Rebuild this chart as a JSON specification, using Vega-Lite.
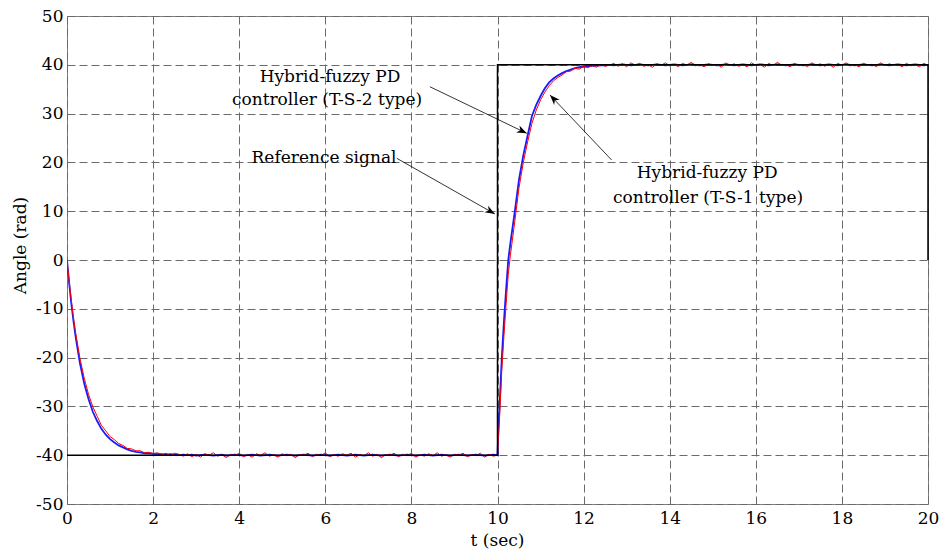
{
  "$schema": "https://vega.github.io/schema/vega-lite/v6.json",
  "width": 861,
  "height": 488,
  "autosize": {"type": "none"},
  "padding": {"left": 67, "top": 16, "right": 13, "bottom": 48},
  "background": "white",
  "datasets": {
    "resp": [
      {"t":0,"b":0,"r":0},{"t":0.05,"b":-4.7,"r":-4.4},{"t":0.1,"b":-8.9,"r":-8.3},{"t":0.15,"b":-12.5,"r":-11.8},{"t":0.2,"b":-15.7,"r":-14.9},
      {"t":0.3,"b":-21.1,"r":-20.1},{"t":0.4,"b":-25.3,"r":-24.2},{"t":0.5,"b":-28.5,"r":-27.5},{"t":0.6,"b":-31.1,"r":-30.1},{"t":0.7,"b":-33.0,"r":-32.0},
      {"t":0.8,"b":-34.6,"r":-33.9},{"t":0.9,"b":-35.8,"r":-35.0},{"t":1.0,"b":-36.7,"r":-36.2},{"t":1.1,"b":-37.4,"r":-36.8},{"t":1.2,"b":-38.0,"r":-37.6},
      {"t":1.3,"b":-38.4,"r":-38.0},{"t":1.4,"b":-38.8,"r":-38.6},{"t":1.5,"b":-39.1,"r":-38.7},{"t":1.6,"b":-39.3,"r":-39.1},{"t":1.7,"b":-39.4,"r":-39.1},
      {"t":1.8,"b":-39.6,"r":-39.5},{"t":1.9,"b":-39.6,"r":-39.4},{"t":2.0,"b":-39.7,"r":-39.7},
      {"t":2.1,"b":-39.8,"r":-39.5},{"t":2.2,"b":-39.8,"r":-39.9},{"t":2.3,"b":-39.9,"r":-39.6},{"t":2.4,"b":-39.8,"r":-40.1},{"t":2.5,"b":-39.9,"r":-39.6},
      {"t":2.6,"b":-40.0,"r":-39.8},{"t":2.7,"b":-39.9,"r":-40.2},{"t":2.8,"b":-40.0,"r":-39.7},{"t":2.9,"b":-39.9,"r":-40.3},{"t":3.0,"b":-40.1,"r":-39.8},
      {"t":3.1,"b":-40.0,"r":-40.4},{"t":3.2,"b":-39.9,"r":-39.7},{"t":3.3,"b":-40.0,"r":-40.0},{"t":3.4,"b":-40.1,"r":-39.5},{"t":3.5,"b":-40.0,"r":-40.2},
      {"t":3.6,"b":-39.9,"r":-39.9},{"t":3.7,"b":-40.1,"r":-40.5},{"t":3.8,"b":-40.0,"r":-39.8},{"t":3.9,"b":-39.9,"r":-40.1},{"t":4.0,"b":-40.0,"r":-39.6},
      {"t":4.1,"b":-40.1,"r":-40.3},{"t":4.2,"b":-40.0,"r":-39.9},{"t":4.3,"b":-39.9,"r":-40.4},{"t":4.4,"b":-40.0,"r":-39.7},{"t":4.5,"b":-40.1,"r":-40.0},
      {"t":4.6,"b":-40.0,"r":-39.5},{"t":4.7,"b":-39.9,"r":-40.2},{"t":4.8,"b":-40.0,"r":-39.9},{"t":4.9,"b":-40.1,"r":-40.4},{"t":5.0,"b":-40.0,"r":-39.7},
      {"t":5.1,"b":-39.9,"r":-40.1},{"t":5.2,"b":-40.0,"r":-39.8},{"t":5.3,"b":-40.1,"r":-40.5},{"t":5.4,"b":-40.0,"r":-39.9},{"t":5.5,"b":-39.9,"r":-40.0},
      {"t":5.6,"b":-40.0,"r":-39.6},{"t":5.7,"b":-40.1,"r":-40.3},{"t":5.8,"b":-40.0,"r":-39.8},{"t":5.9,"b":-39.9,"r":-40.1},{"t":6.0,"b":-40.0,"r":-39.5},
      {"t":6.1,"b":-40.1,"r":-40.3},{"t":6.2,"b":-40.0,"r":-39.9},{"t":6.3,"b":-39.9,"r":-40.2},{"t":6.4,"b":-40.0,"r":-39.7},{"t":6.5,"b":-40.1,"r":-40.0},
      {"t":6.6,"b":-40.0,"r":-39.6},{"t":6.7,"b":-39.9,"r":-40.4},{"t":6.8,"b":-40.0,"r":-39.9},{"t":6.9,"b":-40.1,"r":-40.1},{"t":7.0,"b":-40.0,"r":-39.5},
      {"t":7.1,"b":-39.9,"r":-40.2},{"t":7.2,"b":-40.0,"r":-39.8},{"t":7.3,"b":-40.1,"r":-40.5},{"t":7.4,"b":-40.0,"r":-39.9},{"t":7.5,"b":-39.9,"r":-40.0},
      {"t":7.6,"b":-40.0,"r":-39.6},{"t":7.7,"b":-40.1,"r":-40.3},{"t":7.8,"b":-40.0,"r":-39.8},{"t":7.9,"b":-39.9,"r":-40.1},{"t":8.0,"b":-40.0,"r":-39.6},
      {"t":8.1,"b":-40.1,"r":-40.4},{"t":8.2,"b":-40.0,"r":-39.9},{"t":8.3,"b":-39.9,"r":-40.2},{"t":8.4,"b":-40.0,"r":-39.7},{"t":8.5,"b":-40.1,"r":-40.1},
      {"t":8.6,"b":-40.0,"r":-39.5},{"t":8.7,"b":-39.9,"r":-40.2},{"t":8.8,"b":-40.0,"r":-39.9},{"t":8.9,"b":-40.1,"r":-40.4},{"t":9.0,"b":-40.0,"r":-39.8},
      {"t":9.1,"b":-39.9,"r":-40.0},{"t":9.2,"b":-40.0,"r":-39.6},{"t":9.3,"b":-40.1,"r":-40.3},{"t":9.4,"b":-40.0,"r":-39.9},{"t":9.5,"b":-39.9,"r":-40.1},
      {"t":9.6,"b":-40.0,"r":-39.6},{"t":9.7,"b":-40.1,"r":-40.4},{"t":9.8,"b":-40.0,"r":-39.8},{"t":9.9,"b":-39.9,"r":-40.2},{"t":10.0,"b":-40.0,"r":-40.0},
      {"t":10.02,"b":-35,"r":-36.5},{"t":10.05,"b":-29.5,"r":-32},{"t":10.1,"b":-20,"r":-22.5},{"t":10.15,"b":-12.5,"r":-15.5},{"t":10.2,"b":-6,"r":-9},
      {"t":10.25,"b":0,"r":-3},{"t":10.3,"b":3.5,"r":1},{"t":10.4,"b":9.8,"r":7.8},{"t":10.5,"b":16.5,"r":14.8},{"t":10.6,"b":21.5,"r":20},
      {"t":10.7,"b":25.5,"r":24.2},{"t":10.8,"b":29.5,"r":28},{"t":10.9,"b":31.8,"r":30.7},{"t":11.0,"b":33.6,"r":32.8},{"t":11.1,"b":35.2,"r":34.4},
      {"t":11.2,"b":36.4,"r":35.7},{"t":11.3,"b":37.2,"r":36.7},{"t":11.4,"b":37.8,"r":37.4},{"t":11.5,"b":38.3,"r":37.9},{"t":11.6,"b":38.7,"r":38.6},
      {"t":11.7,"b":39.0,"r":38.7},{"t":11.8,"b":39.3,"r":39.3},{"t":11.9,"b":39.5,"r":39.1},{"t":12.0,"b":39.6,"r":39.7},{"t":12.1,"b":39.7,"r":39.4},
      {"t":12.2,"b":39.8,"r":39.9},{"t":12.3,"b":39.85,"r":39.5},{"t":12.4,"b":39.9,"r":40.1},{"t":12.5,"b":39.9,"r":39.7},
      {"t":12.6,"b":40.0,"r":39.9},{"t":12.7,"b":39.9,"r":40.3},{"t":12.8,"b":40.0,"r":39.7},{"t":12.9,"b":40.1,"r":40.2},{"t":13.0,"b":40.0,"r":39.6},
      {"t":13.1,"b":39.9,"r":40.4},{"t":13.2,"b":40.0,"r":39.9},{"t":13.3,"b":40.1,"r":40.3},{"t":13.4,"b":40.0,"r":39.7},{"t":13.5,"b":39.9,"r":40.0},
      {"t":13.6,"b":40.0,"r":39.5},{"t":13.7,"b":40.1,"r":40.2},{"t":13.8,"b":40.0,"r":39.9},{"t":13.9,"b":39.9,"r":40.4},{"t":14.0,"b":40.0,"r":39.8},
      {"t":14.1,"b":40.1,"r":40.1},{"t":14.2,"b":40.0,"r":39.6},{"t":14.3,"b":39.9,"r":40.3},{"t":14.4,"b":40.0,"r":39.9},{"t":14.5,"b":40.1,"r":40.5},
      {"t":14.6,"b":40.0,"r":39.8},{"t":14.7,"b":39.9,"r":40.0},{"t":14.8,"b":40.0,"r":39.6},{"t":14.9,"b":40.1,"r":40.2},{"t":15.0,"b":40.0,"r":39.9},
      {"t":15.1,"b":39.9,"r":40.1},{"t":15.2,"b":40.0,"r":39.5},{"t":15.3,"b":40.1,"r":40.4},{"t":15.4,"b":40.0,"r":39.9},{"t":15.5,"b":39.9,"r":40.2},
      {"t":15.6,"b":40.0,"r":39.7},{"t":15.7,"b":40.1,"r":40.0},{"t":15.8,"b":40.0,"r":39.6},{"t":15.9,"b":39.9,"r":40.4},{"t":16.0,"b":40.0,"r":39.9},
      {"t":16.1,"b":40.1,"r":40.1},{"t":16.2,"b":40.0,"r":39.5},{"t":16.3,"b":39.9,"r":40.3},{"t":16.4,"b":40.0,"r":39.8},{"t":16.5,"b":40.1,"r":40.5},
      {"t":16.6,"b":40.0,"r":39.9},{"t":16.7,"b":39.9,"r":40.0},{"t":16.8,"b":40.0,"r":39.6},{"t":16.9,"b":40.1,"r":40.3},{"t":17.0,"b":40.0,"r":39.8},
      {"t":17.1,"b":39.9,"r":40.1},{"t":17.2,"b":40.0,"r":39.6},{"t":17.3,"b":40.1,"r":40.4},{"t":17.4,"b":40.0,"r":39.9},{"t":17.5,"b":39.9,"r":40.2},
      {"t":17.6,"b":40.0,"r":39.7},{"t":17.7,"b":40.1,"r":40.1},{"t":17.8,"b":40.0,"r":39.5},{"t":17.9,"b":39.9,"r":40.3},{"t":18.0,"b":40.0,"r":39.9},
      {"t":18.1,"b":40.1,"r":40.4},{"t":18.2,"b":40.0,"r":39.8},{"t":18.3,"b":39.9,"r":40.0},{"t":18.4,"b":40.0,"r":39.6},{"t":18.5,"b":40.1,"r":40.3},
      {"t":18.6,"b":40.0,"r":39.9},{"t":18.7,"b":39.9,"r":40.1},{"t":18.8,"b":40.0,"r":39.6},{"t":18.9,"b":40.1,"r":40.4},{"t":19.0,"b":40.0,"r":39.8},
      {"t":19.1,"b":39.9,"r":40.2},{"t":19.2,"b":40.0,"r":39.9},{"t":19.3,"b":40.1,"r":40.1},{"t":19.4,"b":40.0,"r":39.6},{"t":19.5,"b":39.9,"r":40.3},
      {"t":19.6,"b":40.0,"r":39.8},{"t":19.7,"b":40.1,"r":40.0},{"t":19.8,"b":40.0,"r":39.6},{"t":19.9,"b":39.9,"r":40.3},{"t":20.0,"b":40.0,"r":39.9}
    ],
    "ref": [
      {"i":0,"t":0,"y":-40},{"i":1,"t":10,"y":-40},{"i":2,"t":10,"y":40},{"i":3,"t":20,"y":40},{"i":4,"t":20,"y":0}
    ],
    "notes": [
      {"t":6.11,"y":37.5,"label":"Hybrid-fuzzy PD"},
      {"t":6.04,"y":32.8,"label":"controller (T-S-2 type)"},
      {"t":5.97,"y":20.9,"label":"Reference signal"},
      {"t":14.87,"y":17.8,"label":"Hybrid-fuzzy PD"},
      {"t":14.89,"y":12.7,"label":"controller (T-S-1 type)"}
    ],
    "arrows": [
      {"id":1,"x1":8.43,"y1":35.5,"x2":10.68,"y2":25.96},
      {"id":2,"x1":7.66,"y1":20.84,"x2":9.94,"y2":9.43},
      {"id":3,"x1":12.65,"y1":20.5,"x2":11.22,"y2":33.8}
    ]
  },
  "layer": [
    {
      "data": {"name": "resp"},
      "mark": {"type": "line", "color": "#1a1aff", "strokeWidth": 1.8, "clip": true},
      "encoding": {
        "x": {"field": "t", "type": "quantitative", "title": "t (sec)",
              "scale": {"domain": [0, 20], "nice": false, "zero": false},
              "axis": {"values": [0,2,4,6,8,10,12,14,16,18,20], "labelFlush": false, "labelOverlap": false, "labelPadding": 6,
                       "labelExpr": "toString(datum.value)",
                       "titleX": 430, "titleY": 36, "titleBaseline": "middle", "titleAlign": "center"}},
        "y": {"field": "b", "type": "quantitative", "title": "Angle (rad)",
              "scale": {"domain": [-50, 50], "nice": false, "zero": false},
              "axis": {"values": [-50,-40,-30,-20,-10,0,10,20,30,40,50], "labelFlush": false, "labelOverlap": false, "labelPadding": 4,
                       "labelExpr": "toString(datum.value)",
                       "titleX": -47, "titleY": 229, "titleBaseline": "middle", "titleAlign": "center", "titleAngle": -90}}
      }
    },
    {
      "data": {"name": "resp"},
      "mark": {"type": "line", "color": "#ff0000", "strokeWidth": 1, "clip": true},
      "encoding": {
        "x": {"field": "t", "type": "quantitative", "title": "t (sec)"},
        "y": {"field": "r", "type": "quantitative", "title": "Angle (rad)"}
      }
    },
    {
      "data": {"name": "ref"},
      "mark": {"type": "line", "color": "#000000", "strokeWidth": 1.5},
      "encoding": {
        "x": {"field": "t", "type": "quantitative", "title": "t (sec)"},
        "y": {"field": "y", "type": "quantitative", "title": "Angle (rad)"},
        "order": {"field": "i", "type": "quantitative"}
      }
    },
    {
      "data": {"name": "arrows"},
      "mark": {"type": "rule", "color": "#000000", "strokeWidth": 0.8},
      "encoding": {
        "x": {"field": "x1", "type": "quantitative", "title": "t (sec)"},
        "y": {"field": "y1", "type": "quantitative", "title": "Angle (rad)"},
        "x2": {"field": "x2"},
        "y2": {"field": "y2"}
      }
    },
    {
      "data": {"name": "arrows"},
      "transform": [{"filter": "datum.id == 1"}],
      "mark": {"type": "point", "shape": "M0,0 L-1,-0.38 L-0.7,0 L-1,0.38 Z", "filled": true, "color": "#000000", "opacity": 1, "size": 400, "angle": 25.7},
      "encoding": {
        "x": {"field": "x2", "type": "quantitative", "title": "t (sec)"},
        "y": {"field": "y2", "type": "quantitative", "title": "Angle (rad)"}
      }
    },
    {
      "data": {"name": "arrows"},
      "transform": [{"filter": "datum.id == 2"}],
      "mark": {"type": "point", "shape": "M0,0 L-1,-0.38 L-0.7,0 L-1,0.38 Z", "filled": true, "color": "#000000", "opacity": 1, "size": 400, "angle": 29.5},
      "encoding": {
        "x": {"field": "x2", "type": "quantitative", "title": "t (sec)"},
        "y": {"field": "y2", "type": "quantitative", "title": "Angle (rad)"}
      }
    },
    {
      "data": {"name": "arrows"},
      "transform": [{"filter": "datum.id == 3"}],
      "mark": {"type": "point", "shape": "M0,0 L-1,-0.38 L-0.7,0 L-1,0.38 Z", "filled": true, "color": "#000000", "opacity": 1, "size": 400, "angle": 226.5},
      "encoding": {
        "x": {"field": "x2", "type": "quantitative", "title": "t (sec)"},
        "y": {"field": "y2", "type": "quantitative", "title": "Angle (rad)"}
      }
    },
    {
      "data": {"name": "notes"},
      "mark": {"type": "text", "font": "DejaVu Serif", "fontSize": 17, "color": "#000000", "align": "center", "baseline": "middle"},
      "encoding": {
        "x": {"field": "t", "type": "quantitative", "title": "t (sec)"},
        "y": {"field": "y", "type": "quantitative", "title": "Angle (rad)"},
        "text": {"field": "label"}
      }
    }
  ],
  "config": {
    "font": "DejaVu Serif",
    "view": {"stroke": "#808080", "strokeWidth": 1},
    "axis": {
      "domain": false,
      "ticks": false,
      "grid": true,
      "gridColor": "#6a6a6a",
      "gridDash": [8, 4],
      "gridWidth": 1,
      "gridOpacity": 1,
      "labelFont": "DejaVu Serif",
      "labelFontSize": 17,
      "labelColor": "#000000",
      "titleFont": "DejaVu Serif",
      "titleFontSize": 17,
      "titleFontWeight": "normal",
      "titleColor": "#000000"
    }
  }
}
